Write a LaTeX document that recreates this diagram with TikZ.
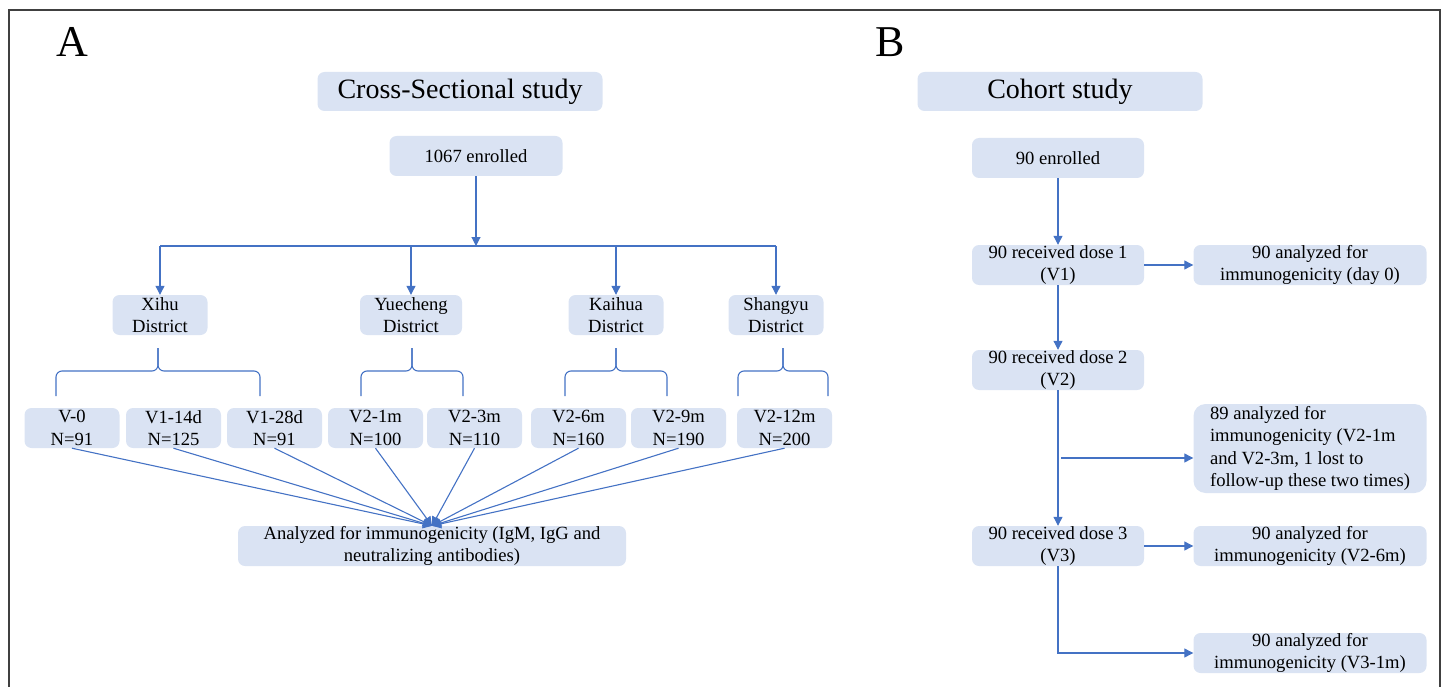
\documentclass[tikz,border=0pt]{standalone}
\usepackage{fontspec}
\setmainfont{Liberation Serif}
\usetikzlibrary{positioning}
\usetikzlibrary{arrows.meta}
\definecolor{boxfill}{HTML}{DAE3F3}
\definecolor{linkblue}{HTML}{4472C4}
\definecolor{framegray}{HTML}{404040}
\tikzset{
  box/.style={fill=boxfill, rounded corners=7pt, inner sep=0pt, align=center,
    minimum width=95pt, minimum height=40pt, font=\fontsize{18.6}{22.5}\selectfont},
  titlebox/.style={box, minimum width=285pt, minimum height=39pt, font=\fontsize{28}{30}\selectfont},
  link/.style={draw=linkblue, line width=1.1pt},
  conn/.style={link, -{Triangle[length=9pt,width=9pt]}},
  brace/.style={link, rounded corners=6pt}
}
\begin{document}
\begin{tikzpicture}[x=1pt,y=-1pt]
            \useasboundingbox (0,0) rectangle (1447,687);
            % Frame
            \draw[framegray, line width=2pt] (8.5,687) -- (8.5,10.5) -- (1440,10.5) -- (1440,687);

            % Panel labels
            \node[font=\fontsize{44}{44}\selectfont] (labA) at (72,42) {A};
            \node[font=\fontsize{44}{44}\selectfont] (labB) at (890,42) {B};

            % Panel A: cross-sectional study
            \node[titlebox] (csTitle) at (460,91.5) {Cross-Sectional study};
            \node[box, minimum width=173pt] (enr) at (476,156) {1067 enrolled};

            % Districts
            \node[box] (xihu) at (160,315) {Xihu\\District};
            \node[box, minimum width=102pt] (yue) at (411,315) {Yuecheng\\District};
            \node[box] (kai) at (616,315) {Kaihua\\District};
            \node[box] (shang) at (776,315) {Shangyu\\District};

            % Bus from enrolled to districts
            \coordinate (bus) at (476,246);
            \draw[conn] (enr) -- (bus);
            \draw[link] (xihu |- bus) -- (shang |- bus);
            \foreach \d in {xihu,yue,kai,shang}
                \draw[conn] (\d |- bus) -- (\d);

            % Braces
            \foreach \l/\m/\r in {56/158/260, 361/412/463, 565/616/667, 738/783/828} {
                \draw[brace] (\l,396) -- (\l,371) -- (\m,371) -- (\m,348);
                \draw[brace] (\r,396) -- (\r,371) -- (\m,371) -- (\m,348);
            }

            % Sampling time points
            \foreach \s/\x/\txt in {s1/72/{V-0\\N=91}, s2/173.5/{V1-14d\\N=125}, s3/274.5/{V1-28d\\N=91},
                                    s4/375.5/{V2-1m\\N=100}, s5/474.5/{V2-3m\\N=110}, s6/578.5/{V2-6m\\N=160},
                                    s7/678.5/{V2-9m\\N=190}, s8/784.5/{V2-12m\\N=200}}
                \node[box] (\s) at (\x,428) {\txt};

            % Result
            \node[box, minimum width=388pt] (res) at (432,546) {Analyzed for immunogenicity (IgM, IgG and\\neutralizing antibodies)};
            \foreach \s in {s1,s2,s3,s4,s5,s6,s7,s8}
                \draw[conn] (\s.south) -- (res.north);

            % Panel B: cohort study
            \node[titlebox] (coTitle) at (1060,91.5) {Cohort study};
            \node[box, minimum width=172pt] (c0) at (1058,158) {90 enrolled};
            \node[box, minimum width=172pt] (d1) at (1058,265) {90 received dose 1\\(V1)};
            \node[box, minimum width=172pt] (d2) at (1058,370) {90 received dose 2\\(V2)};
            \node[box, minimum width=172pt] (d3) at (1058,546) {90 received dose 3\\(V3)};

            \node[box, minimum width=233pt] (a1) at (1310,265) {90 analyzed for\\immunogenicity (day 0)};
            \node[box, minimum width=233pt, minimum height=89pt, rounded corners=12pt, align=left] (a2) at (1310,448.5)
                {89 analyzed for\\immunogenicity (V2-1m\\and V2-3m, 1 lost to\\follow-up these two times)};
            \node[box, minimum width=233pt] (a3) at (1310,546) {90 analyzed for\\immunogenicity (V2-6m)};
            \node[box, minimum width=233pt] (a4) at (1310,653) {90 analyzed for\\immunogenicity (V3-1m)};

            % Cohort links
            \draw[conn] (c0) -- (d1);
            \draw[conn] (d1) -- (d2);
            \draw[conn] (d2) -- (d3);
            \draw[conn] (d1) -- (a1);
            \coordinate (brk) at (1061,458);
            \draw[conn] (brk) -- (a2.west |- brk);
            \draw[conn] (d3) -- (a3);
            \draw[conn] (d3.south) |- (a4.west);

        \end{tikzpicture}
\end{document}
